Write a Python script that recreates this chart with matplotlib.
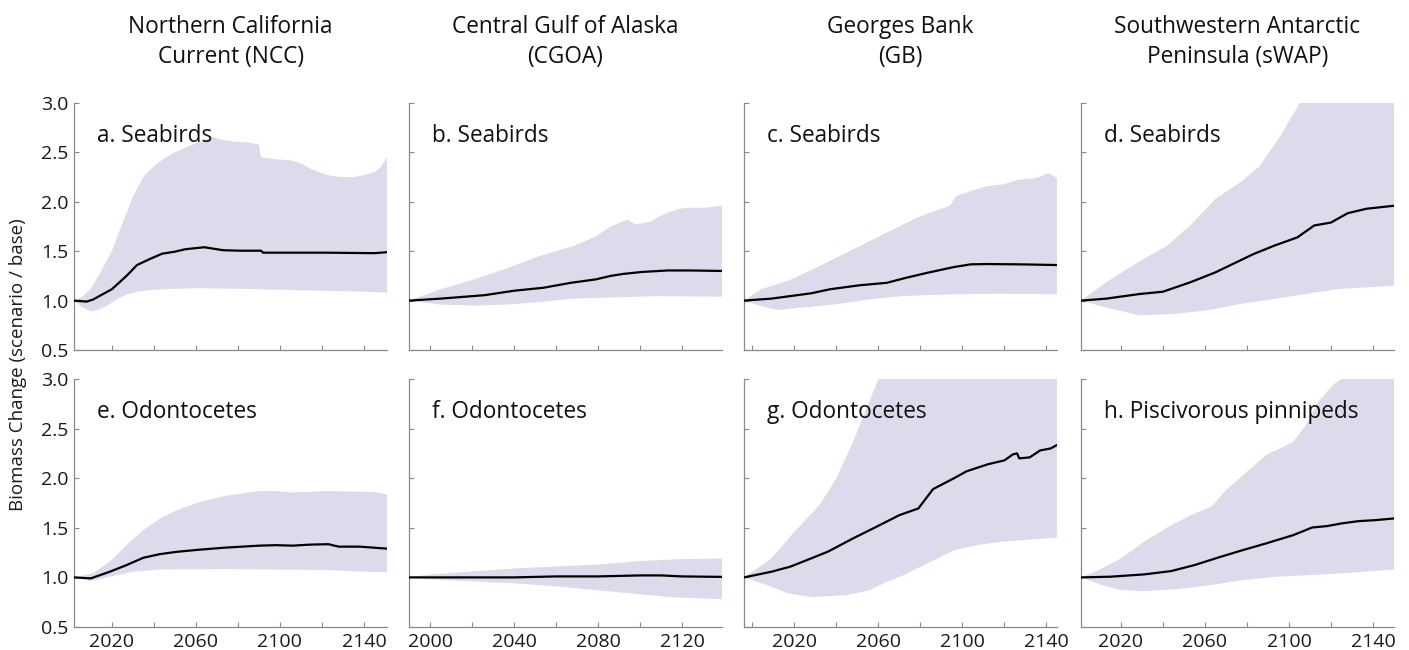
import matplotlib
matplotlib.use("Agg")
import matplotlib.pyplot as plt
import numpy as np

plt.rcParams['font.family'] = ['Open Sans', 'DejaVu Sans']

# ---------------- data ----------------
col_titles = ["Northern California\nCurrent (NCC)", "Central Gulf of Alaska\n(CGOA)",
              "Georges Bank\n(GB)", "Southwestern Antarctic\nPeninsula (sWAP)"]
panel_labels = ["a. Seabirds", "b. Seabirds", "c. Seabirds", "d. Seabirds",
                "e. Odontocetes", "f. Odontocetes", "g. Odontocetes", "h. Piscivorous pinnipeds"]
xlims = [(2002, 2151), (1990, 2139), (1996, 2145), (2001, 2150)]
xtick_major = [[2020, 2040, 2060, 2080, 2100, 2120, 2140],
               [2000, 2020, 2040, 2060, 2080, 2100, 2120],
               [2000, 2020, 2040, 2060, 2080, 2100, 2120, 2140],
               [2020, 2040, 2060, 2080, 2100, 2120, 2140]]
xtick_labeled = [[2020, 2060, 2100, 2140], [2000, 2040, 2080, 2120],
                 [2020, 2060, 2100, 2140], [2020, 2060, 2100, 2140]]
yticks = [0.5, 1.0, 1.5, 2.0, 2.5, 3.0]

# a. NCC seabirds
a_mean_x = [2002, 2008, 2011, 2020, 2027, 2032, 2038, 2044, 2050, 2055, 2064, 2073, 2081, 2091, 2092, 2106, 2122, 2145, 2151]
a_mean_y = [1.00, 0.99, 1.01, 1.115, 1.25, 1.36, 1.42, 1.475, 1.495, 1.52, 1.54, 1.51, 1.505, 1.505, 1.485, 1.485, 1.485, 1.48, 1.49]
a_up_x = [2002, 2006, 2010, 2015, 2020, 2025, 2030, 2035, 2040, 2045, 2050, 2055, 2060, 2065, 2068, 2072, 2078, 2085, 2090, 2091, 2098, 2105, 2110, 2115, 2120, 2125, 2130, 2135, 2140, 2145, 2148, 2151]
a_up_y = [1.00, 1.04, 1.12, 1.30, 1.50, 1.78, 2.05, 2.25, 2.36, 2.44, 2.50, 2.55, 2.59, 2.63, 2.66, 2.63, 2.61, 2.60, 2.58, 2.45, 2.43, 2.42, 2.39, 2.33, 2.29, 2.26, 2.25, 2.25, 2.27, 2.30, 2.35, 2.45]
a_lo_x = [2002, 2006, 2010, 2014, 2018, 2022, 2027, 2032, 2040, 2050, 2060, 2080, 2100, 2120, 2140, 2151]
a_lo_y = [1.00, 0.93, 0.89, 0.91, 0.95, 1.01, 1.06, 1.09, 1.11, 1.12, 1.125, 1.12, 1.11, 1.10, 1.09, 1.08]

# b. CGOA seabirds
b_mean_x = [1990, 2005, 2026, 2040, 2054, 2067, 2079, 2086, 2092, 2101, 2113, 2124, 2139]
b_mean_y = [1.00, 1.02, 1.055, 1.10, 1.13, 1.18, 1.215, 1.25, 1.27, 1.29, 1.305, 1.305, 1.30]
b_up_x = [1990, 2005, 2021, 2037, 2052, 2068, 2079, 2086, 2094, 2098, 2105, 2109, 2113, 2119, 2124, 2131, 2139]
b_up_y = [1.00, 1.115, 1.215, 1.33, 1.45, 1.55, 1.65, 1.75, 1.82, 1.77, 1.80, 1.85, 1.89, 1.93, 1.94, 1.94, 1.96]
b_lo_x = [1990, 2005, 2021, 2037, 2052, 2068, 2084, 2108, 2139]
b_lo_y = [1.00, 0.96, 0.95, 0.96, 0.985, 1.02, 1.03, 1.045, 1.04]

# c. GB seabirds
c_mean_x = [1996, 2009, 2028, 2037, 2051, 2064, 2073, 2083, 2096, 2104, 2112, 2127, 2145]
c_mean_y = [1.00, 1.02, 1.074, 1.115, 1.155, 1.18, 1.23, 1.28, 1.34, 1.367, 1.37, 1.367, 1.36]
c_up_x = [1996, 2004, 2017, 2032, 2048, 2064, 2080, 2094, 2097, 2104, 2112, 2119, 2127, 2135, 2141, 2145]
c_up_y = [1.00, 1.115, 1.20, 1.35, 1.52, 1.69, 1.855, 1.96, 2.06, 2.11, 2.16, 2.175, 2.225, 2.24, 2.29, 2.24]
c_lo_x = [1996, 2004, 2012, 2024, 2040, 2056, 2072, 2096, 2119, 2145]
c_lo_y = [1.00, 0.945, 0.905, 0.93, 0.963, 1.013, 1.047, 1.064, 1.07, 1.064]

# d. sWAP seabirds
d_mean_x = [2001, 2013, 2029, 2040, 2053, 2065, 2083, 2093, 2104, 2112, 2120, 2128, 2137, 2150]
d_mean_y = [1.00, 1.02, 1.067, 1.09, 1.185, 1.286, 1.47, 1.556, 1.64, 1.76, 1.79, 1.885, 1.93, 1.96]
d_up_x = [2001, 2013, 2029, 2042, 2053, 2065, 2077, 2086, 2096, 2104, 2105, 2150]
d_up_y = [1.00, 1.185, 1.40, 1.556, 1.76, 2.03, 2.20, 2.36, 2.67, 2.96, 3.00, 3.00]
d_lo_x = [2001, 2013, 2029, 2045, 2061, 2077, 2093, 2108, 2124, 2150]
d_lo_y = [1.00, 0.93, 0.85, 0.865, 0.90, 0.966, 1.017, 1.067, 1.118, 1.15]

# e. NCC odontocetes
e_mean_x = [2002, 2010, 2019, 2027, 2035, 2043, 2051, 2062, 2074, 2090, 2098, 2106, 2114, 2123, 2128, 2138, 2151]
e_mean_y = [1.00, 0.99, 1.057, 1.124, 1.198, 1.235, 1.258, 1.28, 1.30, 1.32, 1.325, 1.32, 1.33, 1.335, 1.31, 1.31, 1.29]
e_up_x = [2002, 2011, 2019, 2027, 2035, 2043, 2051, 2062, 2074, 2082, 2090, 2098, 2106, 2122, 2145, 2151]
e_up_y = [1.00, 1.04, 1.158, 1.326, 1.476, 1.594, 1.678, 1.762, 1.822, 1.846, 1.87, 1.87, 1.856, 1.87, 1.862, 1.836]
e_lo_x = [2002, 2010, 2019, 2030, 2043, 2074, 2122, 2151]
e_lo_y = [1.00, 0.963, 1.007, 1.057, 1.08, 1.084, 1.074, 1.05]

# f. CGOA odontocetes
f_mean_x = [1990, 2020, 2040, 2060, 2080, 2100, 2110, 2120, 2139]
f_mean_y = [1.00, 1.00, 1.00, 1.01, 1.01, 1.02, 1.02, 1.01, 1.005]
f_up_x = [1990, 2000, 2020, 2040, 2060, 2080, 2100, 2120, 2139]
f_up_y = [1.00, 1.03, 1.06, 1.09, 1.11, 1.13, 1.165, 1.185, 1.19]
f_lo_x = [1990, 2000, 2020, 2040, 2060, 2080, 2100, 2115, 2139]
f_lo_y = [1.00, 0.98, 0.96, 0.94, 0.91, 0.87, 0.83, 0.80, 0.78]

# g. GB odontocetes
g_mean_x = [1996, 2009, 2018, 2026, 2036, 2048, 2059, 2070, 2079, 2086, 2096, 2102, 2112, 2120, 2124, 2126, 2127, 2132, 2137, 2142, 2145]
g_mean_y = [1.00, 1.057, 1.108, 1.175, 1.26, 1.394, 1.51, 1.628, 1.695, 1.89, 2.00, 2.07, 2.14, 2.18, 2.24, 2.25, 2.20, 2.21, 2.28, 2.30, 2.335]
g_up_x = [1996, 2009, 2020, 2032, 2040, 2048, 2055, 2060, 2145]
g_up_y = [1.00, 1.19, 1.46, 1.73, 2.00, 2.37, 2.74, 3.00, 3.00]
g_lo_x = [1996, 2009, 2017, 2029, 2045, 2056, 2064, 2072, 2080, 2088, 2096, 2108, 2119, 2135, 2145]
g_lo_y = [1.00, 0.906, 0.839, 0.80, 0.822, 0.872, 0.956, 1.023, 1.107, 1.19, 1.275, 1.33, 1.36, 1.386, 1.40]

# h. sWAP piscivorous pinnipeds
h_mean_x = [2001, 2015, 2031, 2044, 2055, 2066, 2078, 2089, 2102, 2108, 2111, 2118, 2125, 2133, 2141, 2150]
h_mean_y = [1.00, 1.007, 1.03, 1.064, 1.124, 1.198, 1.275, 1.342, 1.426, 1.477, 1.503, 1.517, 1.544, 1.567, 1.577, 1.594]
h_up_x = [2001, 2011, 2020, 2031, 2044, 2055, 2063, 2070, 2080, 2089, 2102, 2108, 2114, 2121, 2125, 2150]
h_up_y = [1.00, 1.09, 1.19, 1.36, 1.527, 1.644, 1.711, 1.88, 2.064, 2.232, 2.366, 2.534, 2.77, 2.94, 3.00, 3.00]
h_lo_x = [2001, 2011, 2020, 2031, 2047, 2063, 2078, 2094, 2110, 2125, 2150]
h_lo_y = [1.00, 0.923, 0.872, 0.862, 0.882, 0.923, 0.973, 1.007, 1.023, 1.04, 1.08]

series = [
    (a_mean_x, a_mean_y, a_up_x, a_up_y, a_lo_x, a_lo_y),
    (b_mean_x, b_mean_y, b_up_x, b_up_y, b_lo_x, b_lo_y),
    (c_mean_x, c_mean_y, c_up_x, c_up_y, c_lo_x, c_lo_y),
    (d_mean_x, d_mean_y, d_up_x, d_up_y, d_lo_x, d_lo_y),
    (e_mean_x, e_mean_y, e_up_x, e_up_y, e_lo_x, e_lo_y),
    (f_mean_x, f_mean_y, f_up_x, f_up_y, f_lo_x, f_lo_y),
    (g_mean_x, g_mean_y, g_up_x, g_up_y, g_lo_x, g_lo_y),
    (h_mean_x, h_mean_y, h_up_x, h_up_y, h_lo_x, h_lo_y),
]

# ---------------- figure ----------------
W, H = 1409, 650
fig = plt.figure(figsize=(W / 100, H / 100), dpi=100)
fill_color = '#dbdbec'
spine_color = '#8a8a8a'

lefts = [74, 409, 744, 1081]
ax_w = 313
rows = [(103, 350), (379, 627)]

for r in range(2):
    top, bot = rows[r]
    for c in range(4):
        idx = r * 4 + c
        ax = fig.add_axes([lefts[c] / W, (H - bot) / H, ax_w / W, (bot - top) / H])
        mx, my, ux, uy, lx, ly = series[idx]
        px = list(ux) + list(lx)[::-1]
        py = list(uy) + list(ly)[::-1]
        ax.fill(px, py, color=fill_color, lw=0, zorder=1)
        ax.plot(mx, my, color='black', lw=1.6, zorder=3, solid_capstyle='round')
        ax.set_xlim(*xlims[c])
        ax.set_ylim(0.5, 3.0)
        for s in ['top', 'right']:
            ax.spines[s].set_visible(False)
        for s in ['left', 'bottom']:
            ax.spines[s].set_color(spine_color)
            ax.spines[s].set_linewidth(0.9)
        ax.set_xticks(xtick_major[c])
        if r == 1:
            ax.set_xticklabels([str(t) if t in xtick_labeled[c] else '' for t in xtick_major[c]])
        else:
            ax.set_xticklabels([])
        ax.set_yticks(yticks)
        if c == 0:
            ax.set_yticklabels([f"{v:.1f}" for v in yticks])
        else:
            ax.set_yticklabels([])
        ax.tick_params(direction='in', length=3.5, width=0.8, color=spine_color,
                       labelsize=14, pad=4, labelcolor='#1a1a1a')
        ax.patch.set_alpha(0)
        ax.text(0.072, 0.865, panel_labels[idx], transform=ax.transAxes,
                fontsize=16.3, va='center', ha='left', color='#111111', zorder=4)

for c in range(4):
    cx = (lefts[c] + ax_w / 2) / W
    fig.text(cx, 1 - 42 / H, col_titles[c], ha='center', va='center',
             fontsize=16.3, linespacing=1.32, color='#111111')

fig.text(18 / W, 1 - 365 / H, "Biomass Change (scenario / base)", rotation=90,
         ha='center', va='center', fontsize=13.5, color='#1a1a1a')

fig.savefig("out.png", dpi=100)
